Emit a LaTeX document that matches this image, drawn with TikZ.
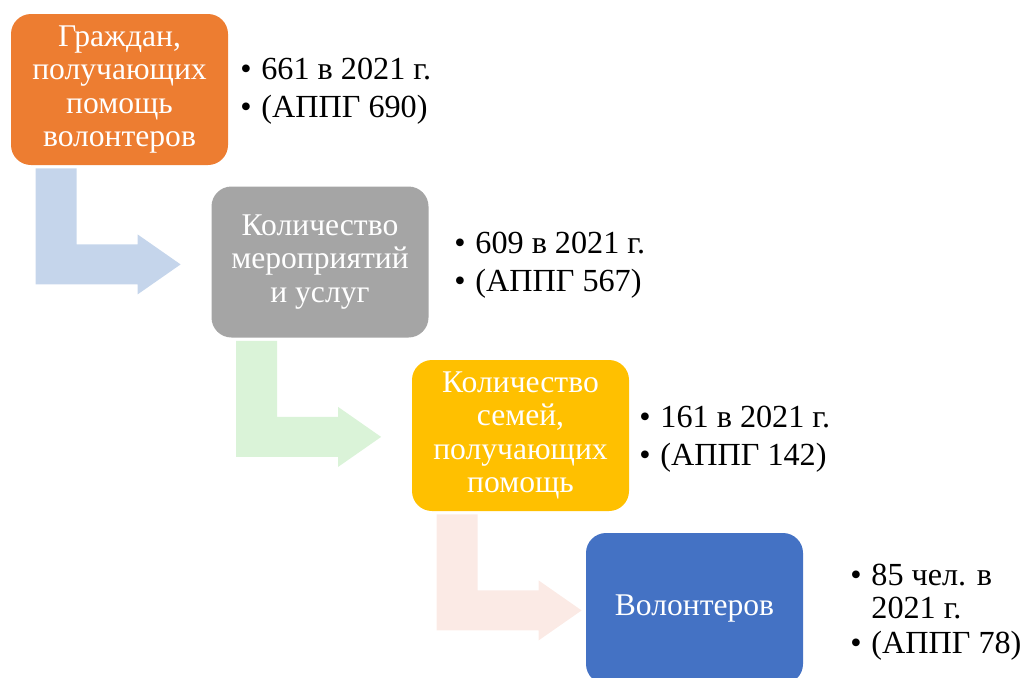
\documentclass[tikz,border=0pt]{standalone}
\usepackage{fontspec}
\setmainfont{Liberation Serif}
\usetikzlibrary{calc}
\definecolor{boxorange}{HTML}{ED7D31}
\definecolor{boxgray}{HTML}{A5A5A5}
\definecolor{boxyellow}{HTML}{FFC000}
\definecolor{boxblue}{HTML}{4472C4}
\definecolor{arrowblue}{HTML}{C5D5EB}
\definecolor{arrowgreen}{HTML}{DAF3D8}
\definecolor{arrowpink}{HTML}{FBEAE5}
\tikzset{
  box/.style={rounded corners=10pt, minimum width=108.5pt, minimum height=75.5pt,
    inner sep=0pt, text=white, align=center, font=\fontsize{15.8}{16.6}\selectfont},
  facts/.style={anchor=base west, inner sep=0pt, font=\fontsize{16.1}{16.6}\selectfont}
}
\newcommand{\bul}{\makebox[10.5pt][l]{\textbullet}}

\begin{document}
\begin{tikzpicture}[x=0.5pt,y=-0.5pt]
          \useasboundingbox (0,0) rectangle (1022,677);
          \clip (0,0) rectangle (1022,677);

          % blocs
          \node[box, fill=boxorange] (b1) at (119.5,89.5) {Граждан,\\получающих\\помощь\\волонтеров};
          \node[box, fill=boxgray] (b2) at (320,262) {Количество\\мероприятий\\и услуг};
          \node[box, fill=boxyellow] (b3) at (520.5,435.5) {Количество\\семей,\\получающих\\помощь};
          \node[box, fill=boxblue] (b4) at (694.5,608.5) {Волонтеров};

          % fleches coudees
          \foreach \n/\c in {b1/arrowblue, b2/arrowgreen, b3/arrowpink}
              \fill[\c] ($(\n.south west)+(25,3)$) -- ++(41,0) -- ++(0,76) -- ++(61,0)
                  -- ++(0,-10) -- ++(43,30) -- ++(-43,30) -- ++(0,-10) -- ++(-102,0) -- cycle;

          % chiffres
          \node[facts] (f1) at (240,79) {\begin{tabular}[t]{@{}l@{}}\bul 661 в 2021 г.\\[2.4pt]\bul (АППГ 690)\end{tabular}};
          \node[facts] (f2) at (454,253) {\begin{tabular}[t]{@{}l@{}}\bul 609 в 2021 г.\\[2.4pt]\bul (АППГ 567)\end{tabular}};
          \node[facts] (f3) at (639,427) {\begin{tabular}[t]{@{}l@{}}\bul 161 в 2021 г.\\[2.4pt]\bul (АППГ 142)\end{tabular}};
          \node[facts] (f4) at (850,585) {\begin{tabular}[t]{@{}l@{}}\bul 85 чел. в\\\hspace*{10.5pt}2021 г.\\[1pt]\bul (АППГ 78)\end{tabular}};
      \end{tikzpicture}
\end{document}
